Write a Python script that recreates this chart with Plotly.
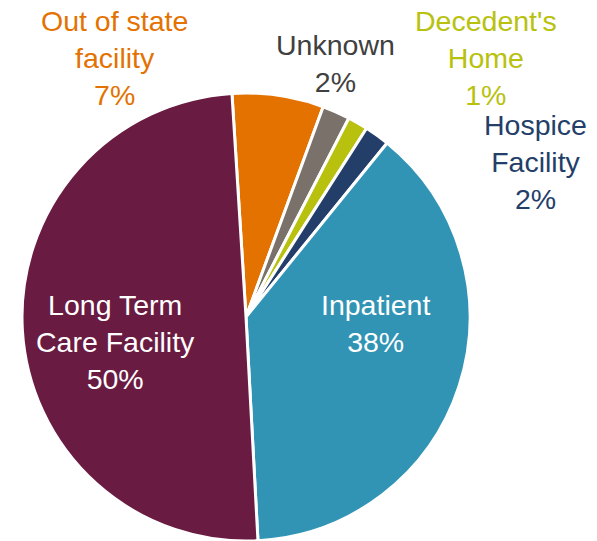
import plotly.graph_objects as go

# Data (clockwise from the top)
categories = ["Out of state<br>facility", "Unknown", "Decedent's<br>Home",
              "Hospice<br>Facility", "Inpatient", "Long Term<br>Care Facility"]
values = [6.6, 2.0, 1.45, 1.8, 38.3, 49.85]
slice_colors = ["#E37200", "#7B716B", "#B8C10E", "#243E6A", "#3194B5", "#6A1B42"]
label_colors = ["#E37200", "#404040", "#B8C10E", "#243E6A", "#FFFFFF", "#FFFFFF"]

# The page body adds an 8px margin, so the figure is drawn 8px smaller and
# everything is placed in coordinates shifted by that offset.
OFF = 8
W, H = 597 - OFF, 541 - OFF
# label anchor positions in screen pixels (x, y from top) -- layout only
label_pos = [(114, 58), (335, 63), (486, 58), (535, 162), (375, 323), (115, 342)]

total = sum(values)

cx, cy, r = 246 - OFF, 317 - OFF, 224
fig = go.Figure(go.Pie(
    labels=categories,
    values=values,
    sort=False,
    direction="clockwise",
    rotation=-3.6,
    marker=dict(colors=slice_colors, line=dict(color="white", width=3)),
    textinfo="none",
    hoverinfo="label+percent",
    showlegend=False,
    domain=dict(x=[(cx - r) / W, (cx + r) / W], y=[1 - (cy + r) / H, 1 - (cy - r) / H]),
))

FONT = "Liberation Sans, Arial, sans-serif"
for cat, v, col, (px, py) in zip(categories, values, label_colors, label_pos):
    pct = round(v / total * 100)
    fig.add_annotation(
        x=(px - OFF) / W, y=1 - (py - OFF) / H, xref="paper", yref="paper",
        text=f"{cat}<br>{pct}%", showarrow=False,
        xanchor="center", yanchor="middle", align="center",
        font=dict(family=FONT, size=28.5, color=col),
    )

fig.update_layout(
    width=W, height=H,
    margin=dict(l=0, r=0, t=0, b=0),
    paper_bgcolor="white", plot_bgcolor="white",
)

fig.write_html("out.html")
